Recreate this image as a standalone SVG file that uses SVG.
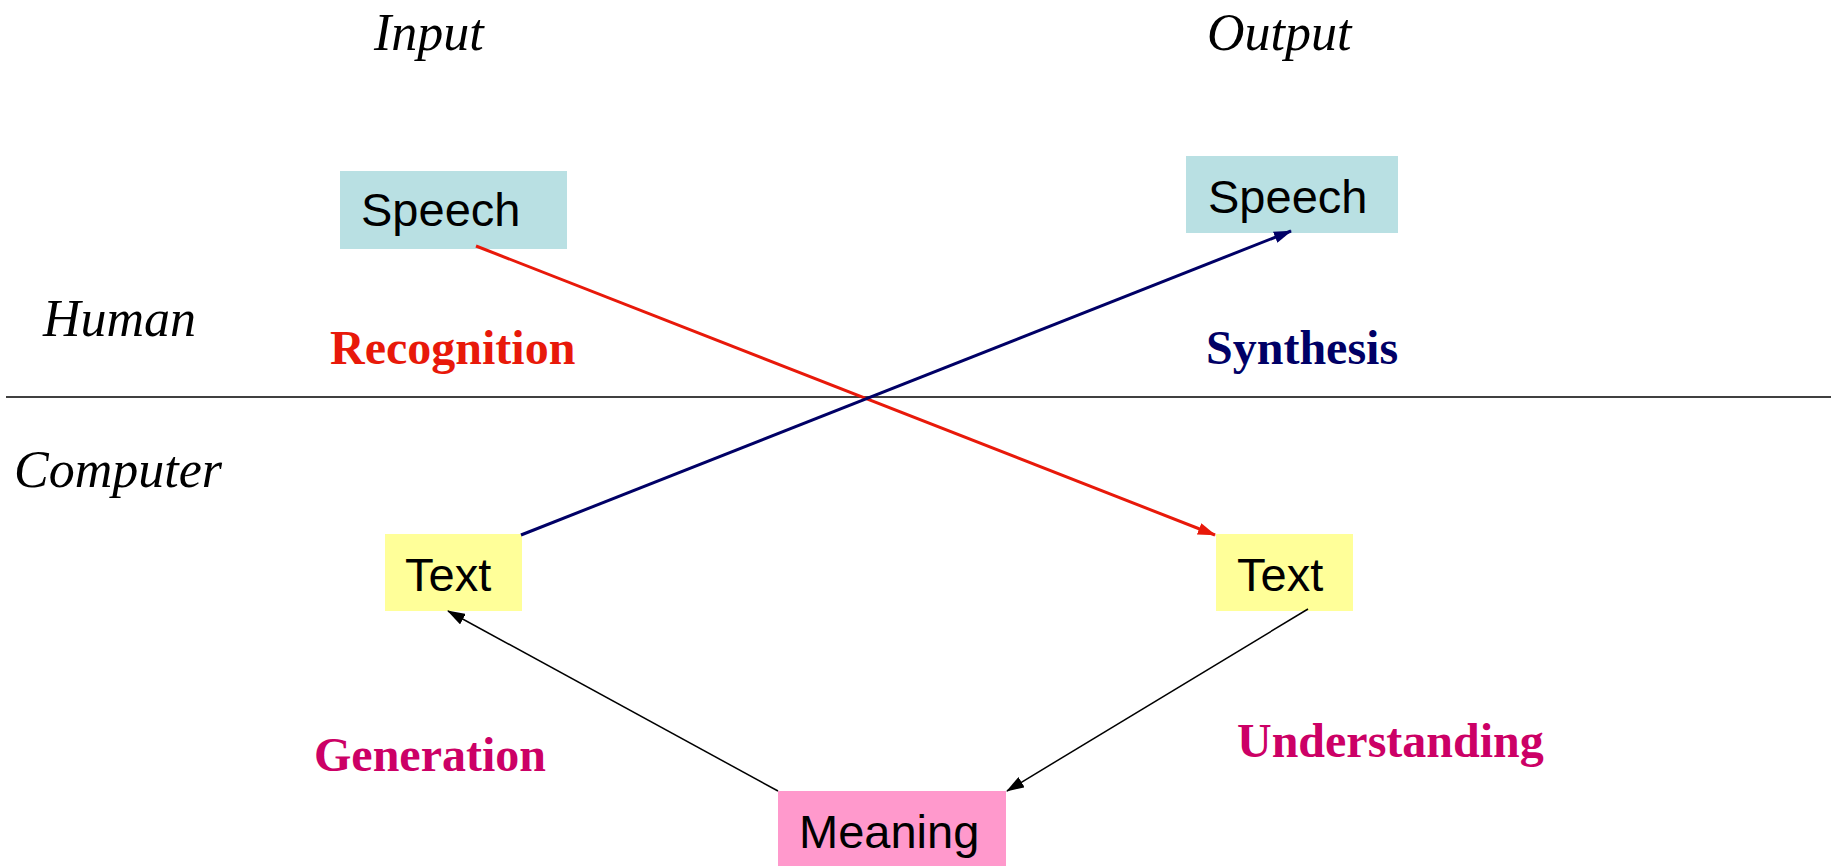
<svg xmlns="http://www.w3.org/2000/svg" width="1831" height="866" viewBox="0 0 1831 866">
<style>
.lbl{font-family:"Liberation Serif","Times New Roman",serif;font-style:italic;font-size:52px;fill:#000}
.proc{font-family:"Liberation Serif","Times New Roman",serif;font-weight:bold;font-size:48px}
.nt{font-family:"Liberation Sans",Arial,sans-serif;font-size:47px;fill:#000}
.sp{fill:#b9e0e3}
.tx{fill:#ffff99}
.mn{fill:#ff99cc}
</style>
<defs>
<marker id="ahR" markerWidth="18" markerHeight="12" refX="17" refY="6" orient="auto" markerUnits="userSpaceOnUse"><path d="M0,0 L18,6 L0,12 Z" fill="#e8190a"/></marker>
<marker id="ahB" markerWidth="18" markerHeight="12" refX="17" refY="6" orient="auto" markerUnits="userSpaceOnUse"><path d="M0,0 L18,6 L0,12 Z" fill="#000066"/></marker>
<marker id="ahK" markerWidth="18" markerHeight="12" refX="17" refY="6" orient="auto" markerUnits="userSpaceOnUse"><path d="M0,0 L18,6 L0,12 Z" fill="#000"/></marker>
</defs>
<rect width="1831" height="866" fill="#fff"/>
<g id="labels">
<text class="lbl" x="374" y="50">Input</text>
<text class="lbl" x="1207" y="50">Output</text>
<text class="lbl" x="43" y="336">Human</text>
<text class="lbl" x="14" y="487">Computer</text>
<text class="proc" x="330" y="364" fill="#e8190a">Recognition</text>
<text class="proc" x="1206" y="364" fill="#000066">Synthesis</text>
<text class="proc" x="314" y="771" fill="#cc0066">Generation</text>
<text class="proc" x="1237" y="757" fill="#cc0066">Understanding</text>
</g>
<line id="divider" x1="6" y1="397" x2="1831" y2="397" stroke="#000" stroke-width="1.5"/>
<g id="speech-in"><rect class="sp" x="340" y="171" width="227" height="78"/><text class="nt" x="361" y="226">Speech</text></g>
<g id="speech-out"><rect class="sp" x="1186" y="156" width="212" height="77"/><text class="nt" x="1208" y="213">Speech</text></g>
<g id="text-in"><rect class="tx" x="385" y="534" width="137" height="77"/><text class="nt" x="405" y="591">Text</text></g>
<g id="text-out"><rect class="tx" x="1216" y="534" width="137" height="77"/><text class="nt" x="1237" y="591">Text</text></g>
<g id="meaning"><rect class="mn" x="778" y="791" width="228" height="80"/><text class="nt" x="799" y="848">Meaning</text></g>
<g id="connectors">
<line x1="476" y1="246" x2="1215" y2="535" stroke="#e8190a" stroke-width="3" marker-end="url(#ahR)"/>
<line x1="521" y1="535" x2="1291" y2="231" stroke="#000066" stroke-width="3" marker-end="url(#ahB)"/>
<line x1="778" y1="791" x2="448" y2="611" stroke="#000" stroke-width="1.5" marker-end="url(#ahK)"/>
<line x1="1308" y1="609" x2="1007" y2="791" stroke="#000" stroke-width="1.5" marker-end="url(#ahK)"/>
</g>
</svg>
